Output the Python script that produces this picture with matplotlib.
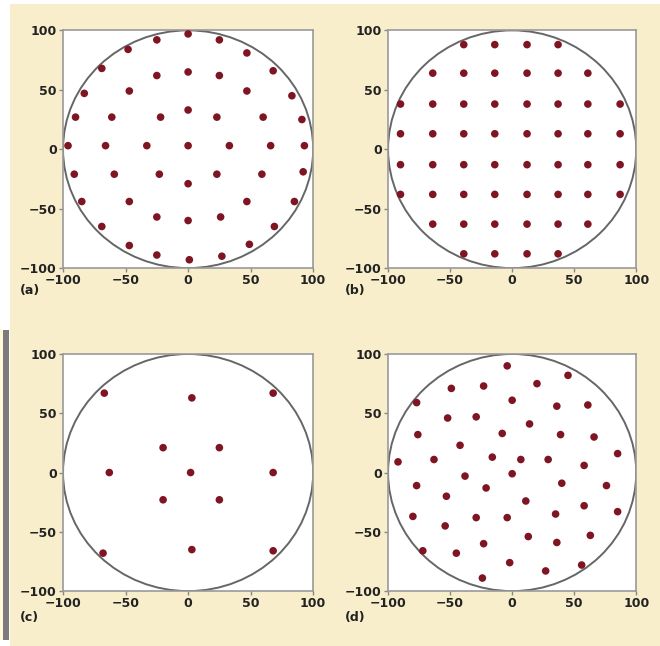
import numpy as np
import matplotlib.pyplot as plt
from matplotlib.patches import Circle, Rectangle

# sample point layouts over a unit pupil (radius 100)
ring_x = [0, -25, 25, -48, 47, -69, 68, -25, 0, 25, -83, -47, 47, 83, 0,
          -90, -61, -22, 23, 60, 91, -96, -66, -33, 0, 33, 66, 93,
          -91, -59, -23, 23, 59, 92, 0, -85, -47, 47, 85, -25, 0, 26,
          -69, 69, -47, 49, -25, 1, 27]
ring_y = [97, 92, 92, 84, 81, 68, 66, 62, 65, 62, 47, 49, 49, 45, 33,
          27, 27, 27, 27, 27, 25, 3, 3, 3, 3, 3, 3, 3,
          -21, -21, -21, -21, -21, -19, -29, -44, -44, -44, -44, -57, -60, -57,
          -65, -65, -81, -80, -89, -93, -90]

grid_cols = [-90, -64, -39, -14, 12, 37, 61, 87]
grid_rows = [88, 64, 38, 13, -13, -38, -63, -88]
# which columns are used in each row
grid_span = [(2, 6), (1, 7), (0, 8), (0, 8), (0, 8), (0, 8), (1, 7), (2, 6)]

sparse_x = [-67, 3, 68, -20, 25, -63, 2, 68, -20, 25, -68, 3, 68]
sparse_y = [67, 63, 67, 21, 21, 0, 0, 0, -23, -23, -68, -65, -66]

rand_x = [-4, 45, -49, -23, 20, -77, 0, 36, 61, -52, -29, 14, -76, -8, 39, 66,
          -42, -92, -63, -16, 7, 29, 85, 58, -38, 0, -77, 40, 76, -21, -53, 11,
          58, -80, -29, -4, 35, 85, -54, 13, 36, 63, -72, -45, -23, -2, 27, 56, -24]
rand_y = [90, 82, 71, 73, 75, 59, 61, 56, 57, 46, 47, 41, 32, 33, 32, 30,
          23, 9, 11, 13, 11, 11, 16, 6, -3, -1, -11, -9, -11, -13, -20, -24,
          -28, -37, -38, -38, -35, -33, -45, -54, -59, -53, -66, -68, -60, -76, -83, -78, -89]

grid_x, grid_y = [], []
for y, (a, b) in zip(grid_rows, grid_span):
    for x in grid_cols[a:b]:
        grid_x.append(x)
        grid_y.append(y)

panels = [
    ('(a)', ring_x, ring_y, [0.0955, 0.585, 0.379, 0.368], (0.030, 0.551)),
    ('(b)', grid_x, grid_y, [0.588, 0.585, 0.376, 0.368], (0.523, 0.551)),
    ('(c)', sparse_x, sparse_y, [0.0955, 0.085, 0.379, 0.367], (0.030, 0.044)),
    ('(d)', rand_x, rand_y, [0.588, 0.085, 0.376, 0.367], (0.523, 0.044)),
]

beige = '#f8eecb'
fnt = dict(family=['Liberation Sans Narrow', 'DejaVu Sans'], weight='bold', size=9)

fig = plt.figure(figsize=(6.6, 6.46), dpi=100)
fig.patch.set_facecolor('white')
fig.patches.append(Rectangle((10/660, 0), 650/660, 1 - 4/646, transform=fig.transFigure,
                             facecolor=beige, edgecolor='none', zorder=-10))
fig.patches.append(Rectangle((0, 6/646), 3/660, 310/646, transform=fig.transFigure,
                             facecolor='#fffbd6', edgecolor='none', zorder=-9))
fig.patches.append(Rectangle((3/660, 6/646), 6/660, 310/646, transform=fig.transFigure,
                             facecolor='#7c7c7c', edgecolor='none', zorder=-9))

for label, xs, ys, pos, lpos in panels:
    ax = fig.add_axes(pos)
    ax.set_facecolor('white')
    ax.add_patch(Circle((0, 0), 100, fill=False, edgecolor='#666666', lw=1.4, zorder=2))
    ax.scatter(xs, ys, s=30, color='#7f1523', edgecolors='none', zorder=3)
    ax.set_xlim(-100, 100)
    ax.set_ylim(-100, 100)
    ticks = [-100, -50, 0, 50, 100]
    ax.set_xticks(ticks)
    ax.set_yticks(ticks)
    ax.set_xticklabels([str(t).replace('-', '\u2212') for t in ticks], fontdict=fnt)
    ax.set_yticklabels([str(t).replace('-', '\u2212') for t in ticks], fontdict=fnt)
    ax.tick_params(length=3, width=1, color='#888888', pad=1.5, labelcolor='#222222')
    for sp in ax.spines.values():
        sp.set_color('#999999')
        sp.set_linewidth(1.2)
    fig.text(lpos[0], lpos[1], label, ha='left', va='center', color='#222222', **fnt)

fig.savefig('out.png', dpi=100, facecolor=fig.get_facecolor())
